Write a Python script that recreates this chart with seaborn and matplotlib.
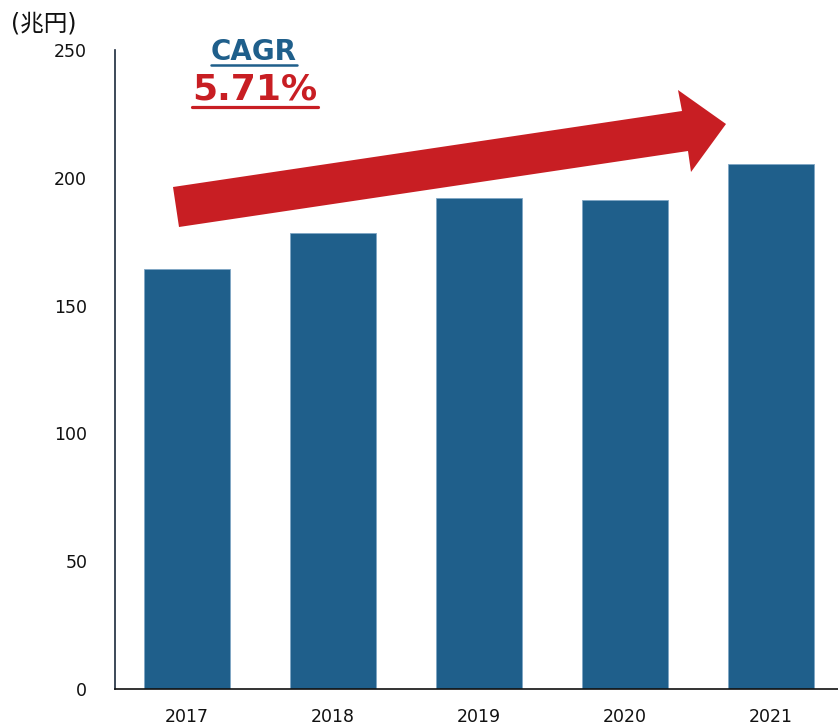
import matplotlib
matplotlib.use("Agg")
import matplotlib.pyplot as plt
import seaborn as sns
import pandas as pd
from matplotlib.patches import Polygon
from matplotlib.lines import Line2D
from matplotlib.transforms import IdentityTransform

years = ["2017", "2018", "2019", "2020", "2021"]
values = [164.4, 178.3, 192.2, 191.4, 205.3]
yticks = [0, 50, 100, 150, 200, 250]
unit_label = "(兆円)"
cagr_title = "CAGR"
cagr_value = "5.71%"

BAR = "#1F5F8B"
RED = "#C81E23"

sns.set_theme(style="white")
plt.rcParams['font.family'] = ['DejaVu Sans', 'Noto Sans CJK JP']

W, H = 838, 726
fig = plt.figure(figsize=(W / 100, H / 100), dpi=100)
ax = fig.add_axes([115 / W, (H - 689) / H, (W - 115) / W, (689 - 50) / H])

df = pd.DataFrame({"year": years, "value": values})
sns.barplot(data=df, x="year", y="value", color=BAR, saturation=1, width=0.59,
            edgecolor="#7fa6c4", linewidth=0.6, ax=ax)

ax.set_xlim(-0.493, 4.459)
ax.set_ylim(0, 250)
ax.set_yticks(yticks)
ax.set_yticklabels([str(t) for t in yticks])
ax.set_xlabel("")
ax.set_ylabel("")
ax.tick_params(axis="x", length=0, pad=14, labelsize=12.5, colors="#111111")
ax.tick_params(axis="y", length=0, pad=20, labelsize=12.5, colors="#111111")
for s in ["top", "right"]:
    ax.spines[s].set_visible(False)
ax.spines["left"].set_color("#1b2a3c")
ax.spines["left"].set_linewidth(1.2)
ax.spines["bottom"].set_color("#111111")
ax.spines["bottom"].set_linewidth(1.2)
ax.grid(False)

# unit label
fig.text(11 / W, 1 - 24 / H, unit_label, fontsize=17, va="center", ha="left",
         family=['DejaVu Sans', 'Noto Sans CJK JP'], color="#111111")

# arrow (image pixel coords -> display)
pts = [(173, 187), (682, 111), (678, 90), (726, 124), (691, 172), (688, 151), (179, 227)]
disp = [(x, H - y) for x, y in pts]
arrow = Polygon(disp, closed=True, facecolor=RED, edgecolor="none",
                transform=IdentityTransform())
fig.patches.append(arrow)

# CAGR texts with underline
t1 = fig.text(254 / W, 1 - 52 / H, cagr_title, fontsize=20, fontweight="bold",
              color=BAR, ha="center", va="center")
t2 = fig.text(255 / W, 1 - 89 / H, cagr_value, fontsize=26, fontweight="bold",
              color=RED, ha="center", va="center")
fig.canvas.draw()
r = fig.canvas.get_renderer()
for t, col, yline, lw in [(t1, BAR, 64.5, 1.8), (t2, RED, 106.5, 2.3)]:
    bb = t.get_window_extent(r)
    fig.lines.append(Line2D([bb.x0, bb.x1], [H - yline, H - yline], color=col,
                            linewidth=lw, transform=IdentityTransform()))

fig.savefig("out.png", dpi=100)
